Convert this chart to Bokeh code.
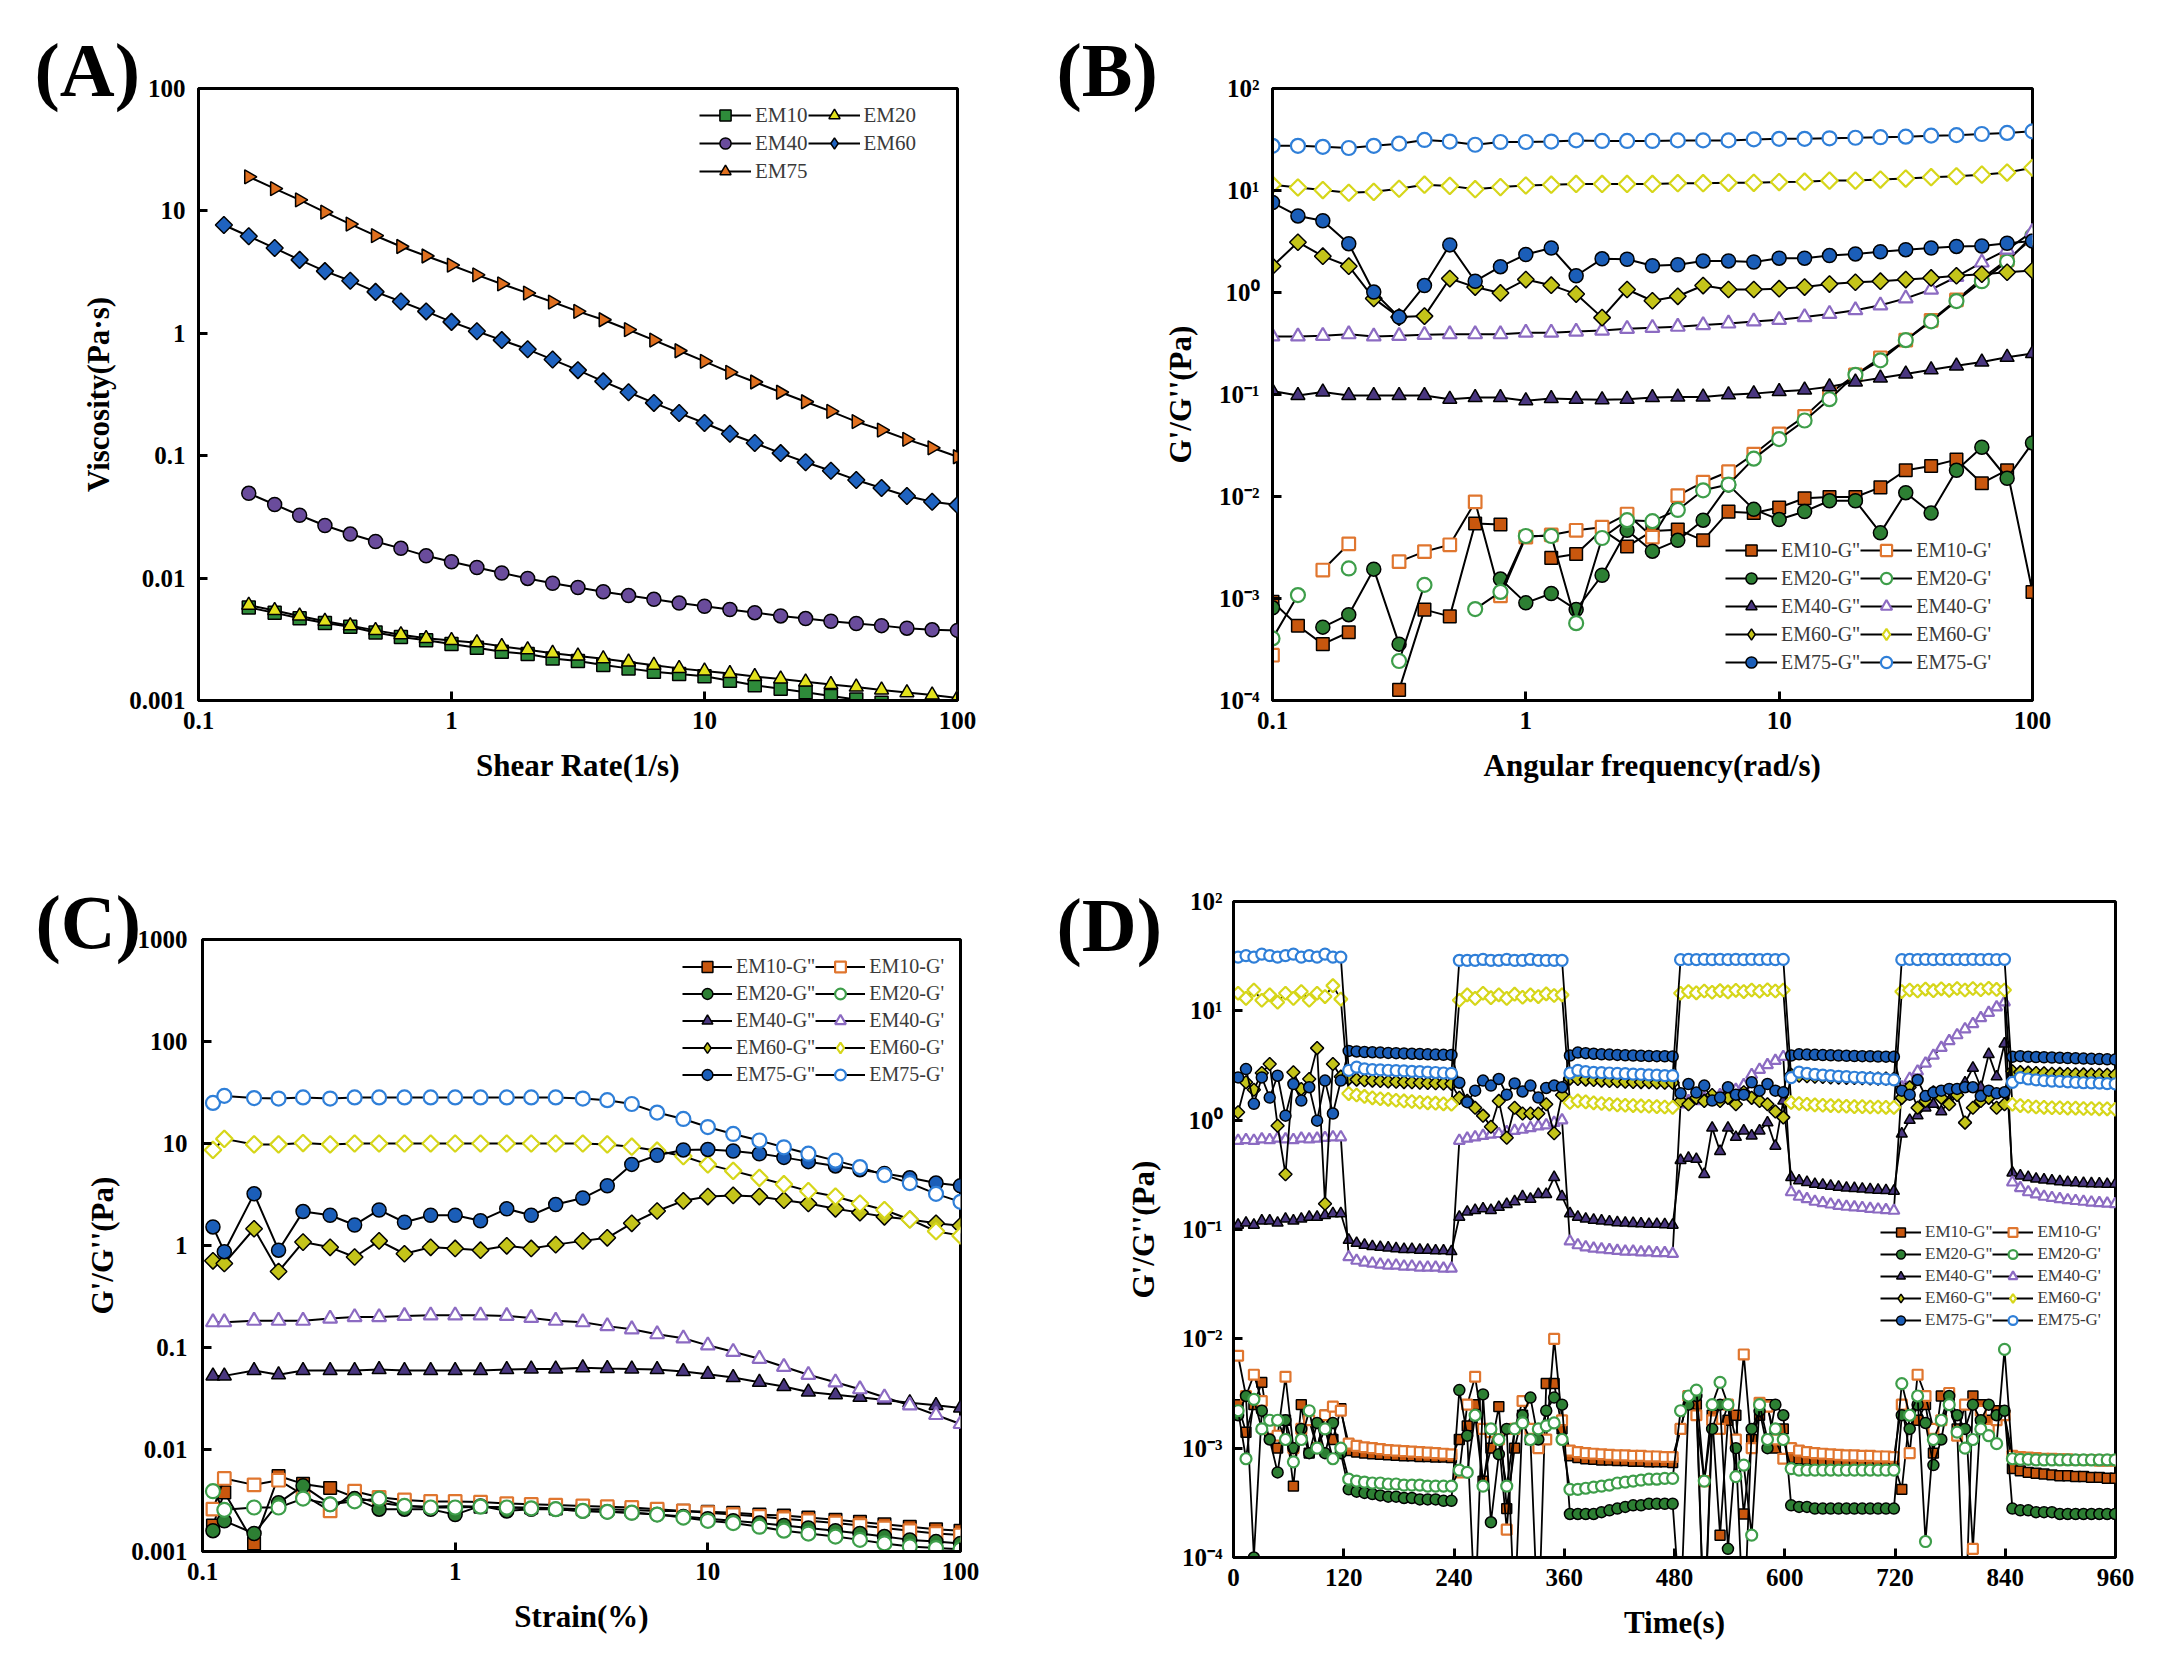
import math
from bokeh.plotting import figure
from bokeh.models import Range1d, FixedTicker, CustomJSTickFormatter, Legend, LegendItem, Label
from bokeh.layouts import column, row
from bokeh.embed import file_html
from bokeh.resources import INLINE

NaN = float("nan")

# ------------------------------------------------------------------ DATA
# (A) viscosity vs shear rate
shear_rate = [0.126, 0.158, 0.2, 0.251, 0.316, 0.398, 0.501, 0.631, 0.794, 1.0, 1.26, 1.58, 2.0, 2.51,
              3.16, 3.98, 5.01, 6.31, 7.94, 10.0, 12.6, 15.8, 20.0, 25.1, 31.6, 39.8, 50.1, 63.1, 79.4, 100.0]
A_EM10 = [0.00575, 0.0052, 0.0047, 0.0043, 0.0040, 0.0036, 0.0033, 0.0031, 0.0029, 0.0027, 0.0025, 0.0024,
          0.0022, 0.0021, 0.00195, 0.00183, 0.00172, 0.00165, 0.00158, 0.00145, 0.00133, 0.00125, 0.00117,
          0.00109, 0.00102, 0.00096, 0.0009, 0.00085, 0.0008]
A_EM20 = [0.00601, 0.00543, 0.00491, 0.00444, 0.00409, 0.00374, 0.00345, 0.00322, 0.00309, 0.00297, 0.00277,
          0.0026, 0.00243, 0.00231, 0.00219, 0.00206, 0.00194, 0.00183, 0.00174, 0.00166, 0.00157, 0.0015,
          0.00142, 0.00135, 0.00129, 0.00122, 0.00116, 0.00111, 0.00105]
A_EM40 = [0.0493, 0.0399, 0.0326, 0.0269, 0.0229, 0.0199, 0.0175, 0.0152, 0.0136, 0.0122, 0.0110, 0.00994,
          0.00908, 0.00838, 0.00773, 0.0072, 0.00671, 0.00625, 0.00589, 0.00554, 0.00522, 0.00491, 0.00467,
          0.00444, 0.00426, 0.00409, 0.0039, 0.00378, 0.00374]
A_EM60 = [7.67, 6.21, 4.97, 3.98, 3.22, 2.69, 2.18, 1.82, 1.51, 1.24, 1.04, 0.88, 0.74, 0.61, 0.50, 0.405,
          0.33, 0.27, 0.223, 0.185, 0.151, 0.127, 0.105, 0.0885, 0.0754, 0.0634, 0.0545, 0.0469, 0.042, 0.0395]
A_EM75 = [19.0, 15.2, 12.3, 9.77, 7.8, 6.27, 5.12, 4.28, 3.6, 3.0, 2.53, 2.13, 1.80, 1.51, 1.29, 1.07, 0.88,
          0.72, 0.59, 0.48, 0.40, 0.33, 0.276, 0.23, 0.19, 0.162, 0.136, 0.116, 0.098]

# (B) frequency sweep
omega = [0.1, 0.126, 0.158, 0.2, 0.251, 0.316, 0.398, 0.501, 0.631, 0.794, 1.0, 1.26, 1.58, 2.0, 2.51, 3.16,
         3.98, 5.01, 6.31, 7.94, 10.0, 12.6, 15.8, 20.0, 25.1, 31.6, 39.8, 50.1, 63.1, 79.4, 100.0]
B_EM10_Gpp = [9.3e-4, 5.4e-4, 3.57e-4, 4.67e-4, NaN, 1.27e-4, 7.78e-4, 6.68e-4, 5.43e-3, 5.31e-3, NaN, 2.5e-3,
              2.73e-3, 4.73e-3, 3.23e-3, 4.6e-3, 4.73e-3, 3.72e-3, 7.1e-3, 6.9e-3, 7.8e-3, 9.6e-3, 9.9e-3,
              9.9e-3, 1.23e-2, 1.81e-2, 1.99e-2, 2.30e-2, 1.35e-2, 1.81e-2, 1.16e-3]
B_EM10_Gp = [2.78e-4, NaN, 1.9e-3, 3.43e-3, NaN, 2.3e-3, 2.88e-3, 3.36e-3, 8.85e-3, 1.06e-3, 4.0e-3, 4.2e-3,
             4.66e-3, 5.0e-3, 6.73e-3, 4.0e-3, 1.02e-2, 1.38e-2, 1.75e-2, 2.6e-2, 4.1e-2, 6.1e-2, 0.102, 0.156,
             0.229, 0.341, 0.534, 0.845, 1.37, 2.09, 3.39]
B_EM20_Gpp = [8.1e-4, NaN, 5.24e-4, 6.94e-4, 1.94e-3, 3.57e-4, NaN, NaN, NaN, 1.55e-3, 9.06e-4, 1.12e-3,
              7.78e-4, 1.69e-3, 4.67e-3, 2.91e-3, 3.72e-3, 5.86e-3, 1.3e-2, 7.48e-3, 5.94e-3, 7.13e-3, 9.08e-3,
              9.08e-3, 4.4e-3, 1.09e-2, 6.88e-3, 1.81e-2, 3.04e-2, 1.51e-2, 3.35e-2]
B_EM20_Gp = [4.06e-4, 1.08e-3, NaN, 1.97e-3, NaN, 2.44e-4, 1.36e-3, NaN, 7.88e-4, 1.16e-3, 4.1e-3, 4.1e-3,
             5.73e-4, 3.92e-3, 5.86e-3, 5.73e-3, 7.38e-3, 1.15e-2, 1.31e-2, 2.35e-2, 3.65e-2, 5.56e-2, 9.0e-2,
             0.156, 0.216, 0.341, 0.521, 0.824, 1.29, 2.01, 3.6]
B_EM40_Gpp = [0.108, 0.098, 0.106, 0.098, 0.098, 0.098, 0.098, 0.090, 0.0935, 0.0935, 0.087, 0.0914, 0.090,
              0.089, 0.090, 0.0935, 0.0946, 0.0946, 0.0993, 0.102, 0.107, 0.111, 0.119, 0.133, 0.145, 0.159,
              0.175, 0.191, 0.208, 0.232, 0.252]
B_EM40_Gp = [0.371, 0.371, 0.376, 0.390, 0.371, 0.376, 0.385, 0.390, 0.390, 0.390, 0.404, 0.404, 0.414, 0.424,
             0.440, 0.451, 0.462, 0.479, 0.497, 0.521, 0.540, 0.574, 0.617, 0.671, 0.749, 0.876, 1.07, 1.42,
             1.97, 2.63, 3.96]
B_EM60_Gpp = [1.81, 3.11, 2.27, 1.81, 0.875, 0.574, 0.587, 1.37, 1.13, 0.99, 1.34, 1.18, 0.965, 0.567, 1.07,
              0.83, 0.918, 1.17, 1.07, 1.07, 1.09, 1.13, 1.21, 1.26, 1.29, 1.34, 1.39, 1.46, 1.51, 1.58, 1.64]
B_EM60_Gp = [11.4, 10.7, 10.1, 9.5, 9.7, 10.4, 11.4, 11.1, 10.3, 10.8, 11.2, 11.4, 11.6, 11.6, 11.6, 11.6,
             11.8, 11.8, 11.9, 11.9, 12.1, 12.2, 12.5, 12.5, 12.8, 13.1, 13.5, 13.8, 14.3, 15.0, 16.7]
B_EM75_Gpp = [7.62, 5.63, 5.05, 3.01, 1.01, 0.574, 1.17, 2.93, 1.29, 1.79, 2.36, 2.73, 1.46, 2.14, 2.12, 1.83,
              1.87, 2.04, 2.04, 1.99, 2.17, 2.17, 2.30, 2.39, 2.51, 2.63, 2.73, 2.83, 2.86, 3.04, 3.19]
B_EM75_Gp = [27.4, 27.4, 26.8, 26.1, 27.4, 28.8, 31.3, 30.2, 28.1, 29.9, 29.9, 30.2, 31.0, 30.6, 30.6, 30.6,
             31.0, 31.0, 31.0, 31.7, 32.1, 32.1, 32.5, 32.9, 33.3, 33.7, 34.5, 34.9, 35.8, 36.7, 38.0]

# (C) strain sweep
strain = [0.11, 0.122, 0.16, 0.2, 0.25, 0.32, 0.4, 0.5, 0.63, 0.8, 1.0, 1.26, 1.6, 2.0, 2.5, 3.2, 4.0, 5.0,
          6.3, 8.0, 10.0, 12.6, 16.0, 20.0, 25.0, 32.0, 40.0, 50.0, 63.0, 80.0, 100.0]
C_EM10_Gpp = [1.8e-3, 3.8e-3, 1.2e-3, 5.5e-3, 4.6e-3, 4.2e-3, 3.4e-3, 3.0e-3, 2.8e-3, 2.75e-3, 2.8e-3, 2.75e-3,
              2.7e-3, 2.7e-3, 2.65e-3, 2.6e-3, 2.6e-3, 2.55e-3, 2.5e-3, 2.5e-3, 2.45e-3, 2.4e-3, 2.3e-3, 2.25e-3,
              2.15e-3, 2.05e-3, 1.95e-3, 1.85e-3, 1.75e-3, 1.65e-3, 1.6e-3]
C_EM10_Gp = [2.6e-3, 5.2e-3, 4.5e-3, 5.0e-3, 3.6e-3, 2.5e-3, 3.9e-3, 3.4e-3, 3.2e-3, 3.1e-3, 3.1e-3, 3.05e-3,
             2.95e-3, 2.9e-3, 2.85e-3, 2.8e-3, 2.75e-3, 2.7e-3, 2.6e-3, 2.5e-3, 2.4e-3, 2.3e-3, 2.2e-3, 2.1e-3,
             2.0e-3, 1.9e-3, 1.8e-3, 1.7e-3, 1.6e-3, 1.5e-3, 1.45e-3]
C_EM20_Gpp = [1.6e-3, 2.0e-3, 1.5e-3, 3.0e-3, 4.4e-3, 2.9e-3, 3.3e-3, 2.6e-3, 2.6e-3, 2.6e-3, 2.3e-3, 2.8e-3,
              2.5e-3, 2.6e-3, 2.6e-3, 2.5e-3, 2.45e-3, 2.4e-3, 2.3e-3, 2.2e-3, 2.1e-3, 2.0e-3, 1.9e-3, 1.8e-3,
              1.7e-3, 1.6e-3, 1.5e-3, 1.4e-3, 1.3e-3, 1.25e-3, 1.2e-3]
C_EM20_Gp = [3.9e-3, 2.56e-3, 2.7e-3, 2.7e-3, 3.3e-3, 2.9e-3, 3.1e-3, 3.3e-3, 2.8e-3, 2.7e-3, 2.7e-3, 2.75e-3,
             2.7e-3, 2.65e-3, 2.6e-3, 2.5e-3, 2.45e-3, 2.4e-3, 2.3e-3, 2.15e-3, 2.0e-3, 1.9e-3, 1.75e-3, 1.6e-3,
             1.5e-3, 1.4e-3, 1.3e-3, 1.2e-3, 1.12e-3, 1.08e-3, 1.05e-3]
C_EM40_Gpp = [0.0527, 0.0527, 0.0594, 0.054, 0.0594, 0.0594, 0.0594, 0.0609, 0.0594, 0.0594, 0.0594, 0.0594,
              0.0609, 0.0617, 0.0617, 0.0632, 0.0624, 0.0617, 0.0609, 0.0581, 0.0547, 0.0508, 0.0456, 0.0414,
              0.0367, 0.0345, 0.0325, 0.0306, 0.0288, 0.0271, 0.0255]
C_EM40_Gp = [0.177, 0.177, 0.183, 0.183, 0.183, 0.192, 0.199, 0.199, 0.204, 0.207, 0.207, 0.207, 0.204, 0.195,
             0.183, 0.177, 0.162, 0.151, 0.135, 0.123, 0.105, 0.0908, 0.0776, 0.0647, 0.054, 0.0456, 0.039,
             0.0325, 0.0271, 0.0218, 0.0178]
C_EM60_Gpp = [0.708, 0.667, 1.46, 0.556, 1.08, 0.96, 0.771, 1.11, 0.83, 0.96, 0.936, 0.90, 0.993, 0.936, 1.02,
              1.11, 1.19, 1.65, 2.18, 2.74, 3.02, 3.10, 3.02, 2.78, 2.58, 2.29, 2.10, 1.91, 1.80, 1.65, 1.56]
C_EM60_Gp = [8.65, 11.1, 9.8, 9.8, 10.1, 9.8, 10.0, 10.0, 10.0, 10.0, 10.0, 10.0, 10.0, 10.0, 10.0, 10.0, 9.8,
             9.3, 8.5, 7.5, 6.24, 5.39, 4.61, 3.99, 3.41, 3.02, 2.58, 2.23, 1.80, 1.38, 1.25]
C_EM75_Gpp = [1.52, 0.87, 3.21, 0.90, 2.15, 1.98, 1.59, 2.23, 1.69, 1.98, 1.98, 1.75, 2.29, 1.98, 2.52, 2.92,
              3.85, 6.24, 7.67, 8.65, 8.75, 8.45, 7.94, 7.31, 6.64, 6.03, 5.54, 5.09, 4.61, 4.09, 3.85]
C_EM75_Gp = [25.0, 29.3, 27.9, 27.6, 28.3, 27.6, 28.3, 28.3, 28.3, 28.3, 28.3, 28.3, 28.3, 28.3, 28.3, 27.6,
             26.6, 24.4, 20.1, 17.4, 14.5, 12.4, 10.7, 9.18, 7.94, 6.79, 5.87, 4.90, 4.09, 3.21, 2.68]

# (D) alternating low / high strain time sweep (14 points per 120 s step)
time_s = [round(5 + 8.6 * k, 1) for k in range(112)]
D_EM10_Gpp = ([2.5e-3, 1.4e-3, 2.5e-3, 4.0e-3, 1.3e-3, 1.0e-3, 1.8e-3, 4.5e-4, 2.5e-3, 9.0e-4, 1.0e-3, 2.0e-3, 1.2e-3, 2.3e-3]
              + [9.5e-4, 9.2e-4, 9.0e-4, 8.9e-4, 8.8e-4, 8.7e-4, 8.6e-4, 8.5e-4, 8.5e-4, 8.4e-4, 8.4e-4, 8.3e-4, 8.3e-4, 8.2e-4]
              + [1.2e-3, 1.6e-3, 2.5e-3, 5.0e-4, 1.0e-3, 2.4e-3, 2.8e-4, 1.0e-3, 2.0e-3, 1.2e-3, 2.0e-5, 3.9e-3, 3.9e-3, 1.5e-3]
              + [8.5e-4, 8.2e-4, 8.0e-4, 7.9e-4, 7.8e-4, 7.8e-4, 7.7e-4, 7.7e-4, 7.6e-4, 7.6e-4, 7.5e-4, 7.5e-4, 7.5e-4, 7.4e-4]
              + [1.5e-3, 3.0e-3, 2.5e-3, 2.0e-5, 2.0e-3, 1.6e-4, 1.8e-3, 2.0e-3, 2.5e-4, 1.2e-3, 2.0e-3, 2.5e-3, 1.0e-3, 1.5e-3]
              + [8.2e-4, 8.0e-4, 7.9e-4, 7.8e-4, 7.7e-4, 7.6e-4, 7.6e-4, 7.5e-4, 7.5e-4, 7.4e-4, 7.4e-4, 7.3e-4, 7.3e-4, 7.2e-4]
              + [4.2e-4, 2.0e-3, 1.8e-3, 2.5e-3, 9.0e-4, 3.0e-3, 2.8e-3, 1.5e-3, 2.0e-5, 3.0e-3, 2.5e-3, 1.8e-3, 2.2e-3, 2.0e-3]
              + [6.5e-4, 6.2e-4, 6.0e-4, 5.9e-4, 5.8e-4, 5.7e-4, 5.6e-4, 5.6e-4, 5.5e-4, 5.5e-4, 5.4e-4, 5.4e-4, 5.3e-4, 5.3e-4])
D_EM10_Gp = ([7.0e-3, 3.0e-3, 4.7e-3, 2.7e-3, 1.5e-3, 1.3e-3, 4.5e-3, 1.0e-3, 1.5e-3, 1.8e-3, 1.0e-3, 2.0e-3, 2.4e-3, 2.2e-3]
             + [1.1e-3, 1.05e-3, 1.02e-3, 1.0e-3, 9.8e-4, 9.6e-4, 9.5e-4, 9.4e-4, 9.3e-4, 9.2e-4, 9.1e-4, 9.0e-4, 8.9e-4, 8.8e-4]
             + [6.0e-4, 2.5e-3, 4.5e-3, 1.5e-3, 1.4e-3, 1.2e-3, 1.8e-4, 1.5e-3, 2.7e-3, 1.5e-3, 1.0e-3, 1.2e-3, 1.0e-2, 1.8e-3]
             + [9.5e-4, 9.2e-4, 9.0e-4, 8.9e-4, 8.8e-4, 8.7e-4, 8.6e-4, 8.6e-4, 8.5e-4, 8.5e-4, 8.4e-4, 8.4e-4, 8.3e-4, 8.3e-4]
             + [1.5e-3, 3.0e-3, 2.0e-3, 5.0e-4, 1.8e-3, 1.5e-3, 2.5e-3, 1.2e-3, 7.2e-3, 1.0e-3, 2.6e-3, 2.4e-3, 1.2e-3, 8.0e-4]
             + [1.0e-3, 9.5e-4, 9.2e-4, 9.0e-4, 8.9e-4, 8.8e-4, 8.7e-4, 8.6e-4, 8.6e-4, 8.5e-4, 8.5e-4, 8.4e-4, 8.4e-4, 8.3e-4]
             + [2.5e-3, 9.0e-4, 4.7e-3, 3.0e-3, 1.5e-3, 1.8e-3, 3.2e-3, 1.3e-3, 2.5e-3, 1.2e-4, 2.2e-3, 1.5e-3, 1.8e-3, 2.0e-3]
             + [8.5e-4, 8.3e-4, 8.2e-4, 8.1e-4, 8.0e-4, 8.0e-4, 7.9e-4, 7.9e-4, 7.8e-4, 7.8e-4, 7.8e-4, 7.7e-4, 7.7e-4, 7.7e-4])
D_EM20_Gpp = ([2.0e-3, 3.0e-3, 1.0e-4, 2.2e-3, 1.2e-3, 6.0e-4, 1.8e-3, 1.0e-3, 1.5e-3, 9.0e-4, 1.7e-3, 9.0e-4, 1.7e-3, 9.0e-4]
              + [4.2e-4, 4.0e-4, 3.9e-4, 3.8e-4, 3.7e-4, 3.6e-4, 3.6e-4, 3.5e-4, 3.5e-4, 3.4e-4, 3.4e-4, 3.4e-4, 3.3e-4, 3.3e-4]
              + [3.4e-3, 1.3e-3, 3.0e-5, 3.1e-3, 2.1e-4, 8.8e-4, 1.5e-3, 3.0e-5, 2.0e-3, 2.9e-3, 1.2e-3, 2.2e-3, 2.9e-3, 2.5e-3]
              + [2.5e-4, 2.5e-4, 2.5e-4, 2.5e-4, 2.6e-4, 2.7e-4, 2.8e-4, 2.9e-4, 3.0e-4, 3.0e-4, 3.1e-4, 3.1e-4, 3.1e-4, 3.1e-4]
              + [3.0e-5, 2.5e-3, 3.0e-3, 2.0e-5, 1.5e-3, 2.5e-3, 1.2e-4, 1.0e-3, 2.0e-5, 1.5e-3, 2.2e-3, 1.0e-3, 2.5e-3, 2.0e-3]
              + [3.0e-4, 2.9e-4, 2.9e-4, 2.8e-4, 2.8e-4, 2.8e-4, 2.8e-4, 2.8e-4, 2.8e-4, 2.8e-4, 2.8e-4, 2.8e-4, 2.8e-4, 2.8e-4]
              + [2.0e-3, 1.5e-3, 2.5e-3, 1.7e-3, 7.0e-4, 1.2e-3, 3.0e-3, 2.0e-3, 1.5e-3, 2.5e-3, 1.8e-3, 2.5e-3, 2.0e-3, 2.2e-3]
              + [2.8e-4, 2.7e-4, 2.7e-4, 2.6e-4, 2.6e-4, 2.6e-4, 2.5e-4, 2.5e-4, 2.5e-4, 2.5e-4, 2.5e-4, 2.5e-4, 2.5e-4, 2.5e-4])
D_EM20_Gp = ([2.2e-3, 8.0e-4, 2.8e-3, 1.5e-3, 1.8e-3, 1.8e-3, 1.2e-3, 7.5e-4, 1.2e-3, 2.2e-3, 1.0e-3, 1.5e-3, 8.0e-4, 1.0e-3]
             + [5.2e-4, 5.0e-4, 4.9e-4, 4.8e-4, 4.8e-4, 4.7e-4, 4.7e-4, 4.6e-4, 4.6e-4, 4.6e-4, 4.5e-4, 4.5e-4, 4.5e-4, 4.5e-4]
             + [6.3e-4, 6.0e-4, 2.0e-3, 4.5e-4, 1.5e-3, 1.2e-3, 4.5e-4, 1.5e-3, 1.7e-3, 1.2e-3, 1.5e-3, 1.6e-3, 1.7e-3, 1.2e-3]
             + [4.2e-4, 4.2e-4, 4.3e-4, 4.4e-4, 4.5e-4, 4.6e-4, 4.8e-4, 4.9e-4, 5.0e-4, 5.1e-4, 5.2e-4, 5.2e-4, 5.3e-4, 5.3e-4]
             + [2.2e-3, 3.0e-3, 3.4e-3, 5.0e-4, 2.5e-3, 4.0e-3, 2.5e-3, 5.5e-4, 7.0e-4, 1.6e-4, 2.5e-3, 1.2e-3, 1.5e-3, 1.2e-3]
             + [6.5e-4, 6.3e-4, 6.3e-4, 6.3e-4, 6.3e-4, 6.3e-4, 6.3e-4, 6.3e-4, 6.3e-4, 6.3e-4, 6.3e-4, 6.3e-4, 6.3e-4, 6.3e-4]
             + [3.9e-3, 2.0e-3, 3.0e-3, 1.4e-4, 1.2e-3, 1.8e-3, 2.5e-3, 1.4e-3, 1.0e-3, 1.2e-3, 1.5e-3, 1.3e-3, 1.1e-3, 8.0e-3]
             + [8.0e-4, 7.9e-4, 7.9e-4, 7.8e-4, 7.8e-4, 7.8e-4, 7.8e-4, 7.8e-4, 7.8e-4, 7.8e-4, 7.8e-4, 7.8e-4, 7.8e-4, 7.8e-4])
D_EM40_Gpp = ([0.11, 0.115, 0.11, 0.12, 0.12, 0.115, 0.125, 0.12, 0.125, 0.13, 0.13, 0.135, 0.14, 0.14]
              + [0.08, 0.075, 0.072, 0.07, 0.069, 0.068, 0.067, 0.066, 0.066, 0.065, 0.065, 0.064, 0.064, 0.063]
              + [0.13, 0.145, 0.15, 0.155, 0.15, 0.16, 0.17, 0.18, 0.2, 0.19, 0.21, 0.21, 0.30, 0.2]
              + [0.14, 0.13, 0.125, 0.122, 0.12, 0.118, 0.116, 0.115, 0.114, 0.113, 0.112, 0.112, 0.111, 0.11]
              + [0.43, 0.45, 0.44, 0.32, 0.85, 0.52, 0.85, 0.7, 0.8, 0.72, 0.8, 0.95, 0.58, 1.5]
              + [0.3, 0.28, 0.27, 0.26, 0.255, 0.25, 0.245, 0.24, 0.238, 0.235, 0.232, 0.23, 0.228, 0.225]
              + [0.75, 1.0, 1.1, 1.3, 1.4, 1.2, 1.5, 1.8, 2.2, 3.0, 2.0, 4.0, 2.5, 5.0]
              + [0.33, 0.31, 0.3, 0.29, 0.285, 0.28, 0.275, 0.27, 0.268, 0.265, 0.263, 0.262, 0.26, 0.26])
D_EM40_Gp = ([0.65, 0.66, 0.65, 0.67, 0.66, 0.68, 0.67, 0.66, 0.68, 0.67, 0.68, 0.69, 0.7, 0.7]
             + [0.056, 0.052, 0.05, 0.049, 0.048, 0.047, 0.047, 0.046, 0.046, 0.045, 0.045, 0.045, 0.044, 0.044]
             + [0.65, 0.68, 0.7, 0.72, 0.74, 0.75, 0.78, 0.8, 0.82, 0.85, 0.88, 0.9, 0.95, 1.0]
             + [0.078, 0.072, 0.069, 0.067, 0.066, 0.065, 0.064, 0.063, 0.063, 0.062, 0.062, 0.061, 0.061, 0.06]
             + [1.4, 1.5, 1.5, 1.6, 1.6, 1.7, 1.8, 1.9, 2.1, 2.6, 2.9, 3.2, 3.5, 3.8]
             + [0.22, 0.2, 0.19, 0.18, 0.175, 0.17, 0.165, 0.162, 0.16, 0.158, 0.155, 0.153, 0.151, 0.149]
             + [2.0, 2.4, 2.8, 3.3, 3.9, 4.6, 5.3, 6.0, 6.8, 7.6, 8.6, 9.6, 10.8, 12.0]
             + [0.27, 0.24, 0.22, 0.21, 0.2, 0.195, 0.19, 0.186, 0.183, 0.18, 0.177, 0.175, 0.173, 0.171])
D_EM60_Gpp = ([1.18, 2.22, 1.9, 2.7, 3.26, 0.89, 0.32, 2.74, 1.93, 2.38, 4.56, 0.172, 3.26, 2.5]
              + [2.4, 2.35, 2.32, 2.3, 2.28, 2.26, 2.25, 2.23, 2.22, 2.2, 2.19, 2.18, 2.17, 2.15]
              + [1.6, 1.5, 1.3, 1.1, 0.87, 1.5, 0.69, 1.3, 1.15, 1.15, 1.15, 1.4, 0.76, 1.7]
              + [2.4, 2.38, 2.35, 2.33, 2.3, 2.28, 2.27, 2.25, 2.24, 2.23, 2.22, 2.21, 2.2, 2.2]
              + [1.5, 1.4, 1.6, 1.5, 1.7, 1.5, 1.6, 1.4, 1.8, 1.6, 1.5, 1.4, 1.2, 1.06]
              + [2.6, 2.55, 2.52, 2.5, 2.48, 2.46, 2.45, 2.44, 2.43, 2.42, 2.41, 2.4, 2.4, 2.39]
              + [1.6, 2.0, 1.3, 1.5, 1.8, 1.6, 1.4, 1.7, 0.95, 1.3, 1.5, 1.6, 1.3, 1.4]
              + [2.8, 2.75, 2.72, 2.7, 2.68, 2.66, 2.65, 2.64, 2.63, 2.62, 2.61, 2.6, 2.6, 2.59])
D_EM60_Gp = ([14.5, 13.0, 15.5, 12.5, 14.0, 12.0, 14.5, 13.0, 15.0, 12.5, 14.5, 13.5, 17.0, 12.8]
             + [1.75, 1.7, 1.65, 1.6, 1.57, 1.55, 1.52, 1.5, 1.48, 1.46, 1.44, 1.43, 1.41, 1.40]
             + [12.5, 14.0, 13.0, 14.5, 13.2, 14.0, 13.0, 14.2, 13.3, 14.0, 13.5, 14.3, 13.8, 14.0]
             + [1.45, 1.5, 1.47, 1.44, 1.42, 1.4, 1.38, 1.37, 1.36, 1.35, 1.34, 1.33, 1.32, 1.31]
             + [14.5, 15.0, 14.6, 15.2, 14.8, 15.3, 14.9, 15.4, 15.0, 15.5, 15.1, 15.6, 15.2, 15.5]
             + [1.45, 1.42, 1.4, 1.38, 1.37, 1.36, 1.35, 1.34, 1.33, 1.33, 1.32, 1.32, 1.31, 1.31]
             + [15.0, 15.5, 15.2, 15.8, 15.3, 15.9, 15.4, 16.0, 15.5, 16.0, 15.6, 16.1, 15.7, 15.5]
             + [1.40, 1.36, 1.34, 1.32, 1.31, 1.30, 1.30, 1.29, 1.29, 1.28, 1.28, 1.27, 1.27, 1.26])
D_EM75_Gpp = ([2.46, 2.93, 1.41, 2.46, 1.61, 2.55, 1.10, 2.14, 1.51, 2.0, 0.99, 2.3, 1.15, 2.3]
              + [4.3, 4.25, 4.2, 4.18, 4.15, 4.12, 4.1, 4.08, 4.05, 4.03, 4.0, 3.98, 3.96, 3.95]
              + [2.2, 1.46, 1.86, 2.3, 2.07, 2.38, 1.71, 2.17, 1.83, 2.07, 1.61, 1.97, 2.07, 2.0]
              + [3.9, 4.15, 4.1, 4.05, 4.0, 3.98, 3.95, 3.92, 3.9, 3.88, 3.86, 3.85, 3.84, 3.83]
              + [1.76, 2.14, 1.79, 2.07, 1.51, 1.61, 2.0, 1.71, 1.71, 2.22, 1.86, 2.14, 1.86, 1.8]
              + [3.9, 4.0, 3.98, 3.96, 3.94, 3.92, 3.9, 3.88, 3.86, 3.85, 3.84, 3.82, 3.81, 3.8]
              + [1.86, 1.71, 2.33, 1.66, 1.79, 1.86, 1.93, 1.93, 2.0, 2.0, 1.66, 1.86, 1.76, 1.8]
              + [3.8, 3.85, 3.8, 3.78, 3.76, 3.74, 3.72, 3.7, 3.68, 3.66, 3.64, 3.62, 3.6, 3.58])
D_EM75_Gp = ([31.0, 32.0, 31.0, 33.0, 32.0, 31.0, 32.0, 33.0, 31.0, 32.0, 31.0, 33.0, 31.0, 31.0]
             + [2.85, 3.05, 2.95, 2.9, 2.88, 2.86, 2.84, 2.82, 2.8, 2.78, 2.75, 2.73, 2.7, 2.68]
             + [29.0, 29.0, 29.0, 29.5, 29.0, 29.0, 29.5, 29.0, 29.0, 29.5, 29.0, 29.0, 29.0, 29.0]
             + [2.7, 2.85, 2.78, 2.74, 2.72, 2.7, 2.68, 2.66, 2.64, 2.62, 2.6, 2.58, 2.56, 2.55]
             + [29.4, 29.6, 29.4, 29.6, 29.4, 29.6, 29.4, 29.6, 29.4, 29.6, 29.4, 29.6, 29.4, 29.6]
             + [2.45, 2.75, 2.68, 2.62, 2.58, 2.55, 2.52, 2.5, 2.47, 2.45, 2.42, 2.4, 2.37, 2.34]
             + [29.4, 29.6, 29.4, 29.6, 29.4, 29.6, 29.4, 29.6, 29.4, 29.6, 29.4, 29.6, 29.4, 29.6]
             + [2.22, 2.45, 2.38, 2.34, 2.3, 2.28, 2.26, 2.24, 2.22, 2.2, 2.19, 2.18, 2.16, 2.15])

# tick labels
LOG_X_EXPS = [-1, 0, 1, 2]
LOG_X_LABELS = ["0.1", "1", "10", "100"]
A_Y_EXPS = [-3, -2, -1, 0, 1, 2]
A_Y_LABELS = ["0.001", "0.01", "0.1", "1", "10", "100"]
C_Y_EXPS = [-3, -2, -1, 0, 1, 2, 3]
C_Y_LABELS = ["0.001", "0.01", "0.1", "1", "10", "100", "1000"]
BD_Y_EXPS = [-4, -3, -2, -1, 0, 1, 2]
BD_Y_LABELS = ["10\u207b\u2074", "10\u207b\u00b3", "10\u207b\u00b2", "10\u207b\u00b9", "10\u2070", "10\u00b9", "10\u00b2"]
D_X_TICKS = [0, 120, 240, 360, 480, 600, 720, 840, 960]

# ------------------------------------------------------------------ STYLE
FONT = "Liberation Serif"
COL = {
    "A10": "#2E8B3A", "A20": "#E2E21C", "A40": "#6A4C9C", "A60": "#1F63C0", "A75": "#E0701F",
    "10f": "#C8570E", "10o": "#E0762F", "20f": "#2D7F33", "20o": "#3E9E4A",
    "40f": "#4A3780", "40o": "#8C6BC2", "60f": "#C4C41A", "60o": "#D6D61A",
    "75f": "#1B5EB8", "75o": "#2F7FD8",
}


def log_fmt(exps, labels):
    return CustomJSTickFormatter(args=dict(exps=exps, labels=labels), code="""
const e = Math.round(Math.log10(tick));
const i = exps.indexOf(e);
return i >= 0 ? labels[i] : "";
""")


def make_fig(w, h, bl, br, bt, bb, xr, yr, x_type):
    p = figure(width=w, height=h, x_axis_type=x_type, y_axis_type="log",
               x_range=Range1d(*xr), y_range=Range1d(*yr),
               output_backend="svg", toolbar_location=None,
               min_border_left=bl, min_border_right=br, min_border_top=bt, min_border_bottom=bb)
    try:
        p.frame_align = False
    except Exception:
        pass
    p.grid.visible = False
    p.outline_line_color = "black"
    p.outline_line_width = 3
    p.outline_line_alpha = 1.0
    p.background_fill_color = "white"
    p.border_fill_color = "white"
    for ax in p.axis:
        ax.axis_line_width = 3
        ax.major_tick_line_width = 3
        ax.major_tick_in = 9
        ax.major_tick_out = 0
        ax.minor_tick_in = 0
        ax.minor_tick_out = 0
        ax.minor_tick_line_color = None
        ax.major_label_text_font = FONT
        ax.major_label_text_font_size = "25px"
        ax.major_label_text_font_style = "bold"
        ax.major_label_text_color = "black"
        ax.axis_label_text_font = FONT
        ax.axis_label_text_font_size = "31px"
        ax.axis_label_text_font_style = "bold"
        ax.axis_label_text_color = "black"
    p.xaxis.major_label_standoff = 11
    p.xaxis.axis_label_standoff = 16
    return p


def add_series(p, x, y, color, marker, size, hollow=False, lw=2.0):
    """Draws one series; returns the renderers to show in its legend entry."""
    rl = p.line(x, y, line_color="black", line_width=lw)
    angle = 0.0
    legend_marker = marker
    if marker == "diamond":
        marker, angle, size = "square", math.pi / 4, size * 0.8
    elif marker == "tri_right":
        marker, angle, legend_marker = "triangle", -math.pi / 2, "triangle"
    if hollow:
        style = dict(fill_color="white", line_color=color, line_width=2.2)
    else:
        style = dict(fill_color=color, line_color="black", line_width=1.5)
    rs = p.scatter(x, y, marker=marker, size=size, angle=angle, **style)
    if legend_marker == "diamond":
        # hidden twin with a diamond marker, used only for the legend glyph
        rleg = p.scatter(x, y, marker="diamond", size=size, visible=False, **style)
        return [rl, rleg]
    return [rl, rs]


def add_legend(p, items, loc, glyph_w, glyph_h, font_size):
    leg = Legend(items=[LegendItem(label=l, renderers=r) for l, r in items],
                 location=loc, orientation="horizontal", ncols=2,
                 background_fill_alpha=0, border_line_alpha=0, padding=0, margin=0, spacing=0,
                 glyph_width=glyph_w, glyph_height=glyph_h, label_height=glyph_h, label_standoff=4,
                 label_text_font=FONT, label_text_font_size=font_size, label_text_color="#3a3a3a")
    p.add_layout(leg)


def add_letter(p, text, x, y):
    # placed in the panel above the frame so that it is not clipped by the frame
    p.add_layout(Label(x=x, y=y, x_units="screen", y_units="screen", text=text,
                       text_font=FONT, text_font_style="bold", text_font_size="76px",
                       text_baseline="middle", text_align="left", text_color="black"), "above")


def gg_series(p, x, d, size, lw=2.0):
    return [
        ('EM10-G"', add_series(p, x, d[0], COL["10f"], "square", size * 0.9, lw=lw)),
        ("EM10-G'", add_series(p, x, d[1], COL["10o"], "square", size * 0.9, hollow=True, lw=lw)),
        ('EM20-G"', add_series(p, x, d[2], COL["20f"], "circle", size, lw=lw)),
        ("EM20-G'", add_series(p, x, d[3], COL["20o"], "circle", size, hollow=True, lw=lw)),
        ('EM40-G"', add_series(p, x, d[4], COL["40f"], "triangle", size, lw=lw)),
        ("EM40-G'", add_series(p, x, d[5], COL["40o"], "triangle", size, hollow=True, lw=lw)),
        ('EM60-G"', add_series(p, x, d[6], COL["60f"], "diamond", size * 1.05, lw=lw)),
        ("EM60-G'", add_series(p, x, d[7], COL["60o"], "diamond", size * 1.05, hollow=True, lw=lw)),
        ('EM75-G"', add_series(p, x, d[8], COL["75f"], "circle", size, lw=lw)),
        ("EM75-G'", add_series(p, x, d[9], COL["75o"], "circle", size, hollow=True, lw=lw)),
    ]


# ------------------------------------------------------------------ PANEL A
pA = make_fig(1050, 839, 198, 93, 88, 139, (0.1, 100), (0.001, 100), "log")
pA.xaxis.ticker = FixedTicker(ticks=[10.0 ** e for e in LOG_X_EXPS], minor_ticks=[])
pA.xaxis.formatter = log_fmt(LOG_X_EXPS, LOG_X_LABELS)
pA.yaxis.ticker = FixedTicker(ticks=[10.0 ** e for e in A_Y_EXPS], minor_ticks=[])
pA.yaxis.formatter = log_fmt(A_Y_EXPS, A_Y_LABELS)
pA.yaxis.major_label_standoff = 13
pA.yaxis.axis_label_standoff = 10
pA.xaxis.axis_label = "Shear Rate(1/s)"
pA.yaxis.axis_label = "Viscosity(Pa\u00b7s)"
itemsA = [
    ("EM10", add_series(pA, shear_rate[1:], A_EM10, COL["A10"], "square", 13)),
    ("EM20", add_series(pA, shear_rate[1:], A_EM20, COL["A20"], "triangle", 14)),
    ("EM40", add_series(pA, shear_rate[1:], A_EM40, COL["A40"], "circle", 14)),
    ("EM60", add_series(pA, shear_rate, A_EM60, COL["A60"], "diamond", 15)),
    ("EM75", add_series(pA, shear_rate[1:], A_EM75, COL["A75"], "tri_right", 14)),
]
add_legend(pA, itemsA, (501, 515), 52, 28, "21px")
add_letter(pA, "(A)", -164, 19)

# ------------------------------------------------------------------ PANEL C
pC = make_fig(1050, 837, 202, 90, 100, 125, (0.1, 100), (0.001, 1000), "log")
pC.xaxis.ticker = FixedTicker(ticks=[10.0 ** e for e in LOG_X_EXPS], minor_ticks=[])
pC.xaxis.formatter = log_fmt(LOG_X_EXPS, LOG_X_LABELS)
pC.yaxis.ticker = FixedTicker(ticks=[10.0 ** e for e in C_Y_EXPS], minor_ticks=[])
pC.yaxis.formatter = log_fmt(C_Y_EXPS, C_Y_LABELS)
pC.yaxis.major_label_standoff = 15
pC.yaxis.axis_label_standoff = 8
pC.xaxis.axis_label = "Strain(%)"
pC.yaxis.axis_label = "G'/G''(Pa)"
itemsC = gg_series(pC, strain, [C_EM10_Gpp, C_EM10_Gp, C_EM20_Gpp, C_EM20_Gp, C_EM40_Gpp, C_EM40_Gp,
                                C_EM60_Gpp, C_EM60_Gp, C_EM75_Gpp, C_EM75_Gp], 14)
add_legend(pC, itemsC, (480, 463), 50, 27, "20px")
add_letter(pC, "(C)", -167, 18)

# ------------------------------------------------------------------ PANEL B
pB = make_fig(1110, 806, 222, 128, 88, 106, (0.1, 100), (1e-4, 100), "log")
pB.xaxis.ticker = FixedTicker(ticks=[10.0 ** e for e in LOG_X_EXPS], minor_ticks=[])
pB.xaxis.formatter = log_fmt(LOG_X_EXPS, LOG_X_LABELS)
pB.yaxis.ticker = FixedTicker(ticks=[10.0 ** e for e in BD_Y_EXPS], minor_ticks=[])
pB.yaxis.formatter = log_fmt(BD_Y_EXPS, BD_Y_LABELS)
pB.yaxis.major_label_standoff = 13
pB.yaxis.axis_label_standoff = 18
pB.xaxis.axis_label = "Angular frequency(rad/s)"
pB.yaxis.axis_label = "G'/G''(Pa)"
itemsB = gg_series(pB, omega, [B_EM10_Gpp, B_EM10_Gp, B_EM20_Gpp, B_EM20_Gp, B_EM40_Gpp, B_EM40_Gp,
                               B_EM60_Gpp, B_EM60_Gp, B_EM75_Gpp, B_EM75_Gp], 14)
add_legend(pB, itemsB, (453, 24), 52, 28, "20px")
add_letter(pB, "(B)", -216, 19)

# ------------------------------------------------------------------ PANEL D
pD = make_fig(1110, 870, 183, 45, 95, 119, (0, 960), (1e-4, 100), "linear")
pD.xaxis.ticker = FixedTicker(ticks=D_X_TICKS, minor_ticks=[])
pD.yaxis.ticker = FixedTicker(ticks=[10.0 ** e for e in BD_Y_EXPS], minor_ticks=[])
pD.yaxis.formatter = log_fmt(BD_Y_EXPS, BD_Y_LABELS)
pD.yaxis.major_label_standoff = 11
pD.yaxis.axis_label_standoff = 18
pD.xaxis.axis_label = "Time(s)"
pD.yaxis.axis_label = "G'/G''(Pa)"
itemsD = gg_series(pD, time_s, [D_EM10_Gpp, D_EM10_Gp, D_EM20_Gpp, D_EM20_Gp, D_EM40_Gpp, D_EM40_Gp,
                                D_EM60_Gpp, D_EM60_Gp, D_EM75_Gpp, D_EM75_Gp], 11, lw=1.8)
add_legend(pD, itemsD, (647, 226), 41, 22, "17px")
add_letter(pD, "(D)", -177, -23)

layout = row(column(pA, pC), column(pB, pD))
open("out.html", "w").write(file_html(layout, INLINE))
